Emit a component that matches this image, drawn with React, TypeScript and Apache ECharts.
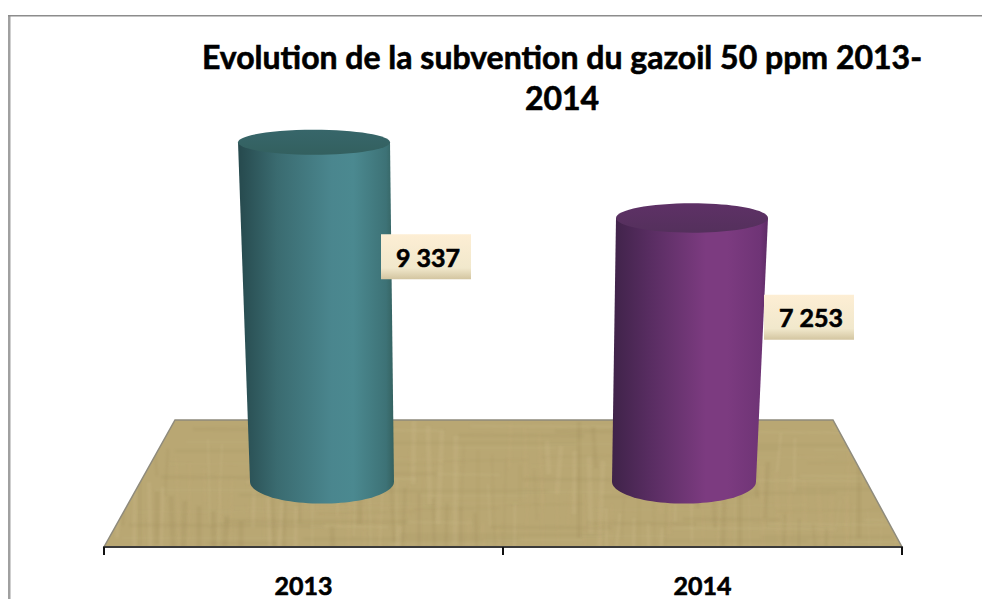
import React, { useEffect, useRef } from "react";
import * as echarts from "echarts";

const titleText = "Evolution de la subvention du gazoil 50 ppm 2013-\n2014";
const categories = ["2013", "2014"];
const subsidyValues = [9337, 7253];
const valueLabels = ["9 337", "7 253"];
const bodyStops = [
  ["#26494d", "#3a6b70", "#4a868e", "#4b8990", "#3d7276", "#34615f"],
  ["#3f2349", "#592d62", "#7c3b80", "#7c3b80", "#6f3476", "#5e2c66"],
];
const lidColors = [
  ["#33605f", "#37666a"],
  ["#54305c", "#5e3166"],
];
const FONT = "Lato, Carlito, 'Noto Sans', sans-serif";

function makeTexture(): string {
  const c = document.createElement("canvas");
  c.width = 820;
  c.height = 140;
  const g = c.getContext("2d") as CanvasRenderingContext2D;
  g.fillStyle = "#b9a773";
  g.fillRect(0, 0, 820, 140);
  (g as any).filter = "blur(1.2px)";
  for (let i = 0; i < 150; i++) {
    const x = (i * 53 + (i % 7) * 11) % 820;
    const y0 = (i * 29) % 110;
    const len = 30 + (i * 17) % 90;
    g.strokeStyle = i % 3 === 0 ? "rgba(216,200,156,0.16)" : i % 3 === 1 ? "rgba(150,130,80,0.16)" : "rgba(196,176,122,0.16)";
    g.lineWidth = 1 + (i % 5);
    g.beginPath();
    g.moveTo(x, y0);
    g.lineTo(x + (i % 9) - 4, y0 + len);
    g.stroke();
  }
  for (let i = 0; i < 90; i++) {
    const y = (i * 31) % 140;
    const x0 = (i * 71) % 820;
    g.strokeStyle = i % 2 === 0 ? "rgba(208,192,146,0.16)" : "rgba(150,130,80,0.12)";
    g.lineWidth = 1 + (i % 3);
    g.beginPath();
    g.moveTo(x0, y);
    g.lineTo(x0 + 60 + (i * 13) % 160, y + (i % 3) - 1);
    g.stroke();
  }
  return c.toDataURL();
}

export default function App() {
  const ref = useRef<HTMLDivElement>(null);
  useEffect(() => {
    document.body.style.margin = "0";
    const chart = echarts.init(ref.current!, null, { renderer: "svg" });
    const texture = makeTexture();

    const renderFloor = (params: any) => {
      const cs = params.coordSys;
      const bottom = cs.y + cs.height;
      const top = bottom - 127;
      return {
        type: "polygon",
        shape: {
          points: [
            [cs.x + 71, top],
            [cs.x + cs.width - 69, top],
            [cs.x + cs.width, bottom],
            [cs.x, bottom],
          ],
        },
        style: {
          fill: { image: texture, repeat: "no-repeat", imageWidth: 820, imageHeight: 140 },
          stroke: "#8f8b7c",
          lineWidth: 1.5,
        },
      };
    };

    const renderCylinder = (params: any, api: any) => {
      const i = params.dataIndex;
      const dir = i === 0 ? 1 : -1;
      const v = api.value(1);
      const topPt = api.coord([api.value(0), v]);
      const basePt = api.coord([api.value(0), 0]);
      const labelPt = api.coord([api.value(0), v * 0.8]);
      const rxTop = 76;
      const rxBase = 72;
      const ryOf = (y: number) => 12.5 + (y - 141) * 0.0279;
      const cxTop = topPt[0] + dir * 10.5;
      const cxBase = basePt[0] + dir * 18.5;
      const ryBase = ryOf(basePt[1]);
      const ryTop = ryOf(topPt[1]);
      const pts: number[][] = [
        [cxTop - rxTop, topPt[1]],
        [cxTop + rxTop, topPt[1]],
      ];
      for (let a = 0; a <= 48; a++) {
        const t = (a / 48) * Math.PI;
        pts.push([cxBase + rxBase * Math.cos(t), basePt[1] + ryBase * Math.sin(t)]);
      }
      const s = bodyStops[i];
      const bodyFill = new echarts.graphic.LinearGradient(0, 0, 1, 0, [
        { offset: 0, color: s[0] },
        { offset: 0.25, color: s[1] },
        { offset: 0.6, color: s[2] },
        { offset: 0.74, color: s[3] },
        { offset: 0.95, color: s[4] },
        { offset: 1, color: s[5] },
      ]);
      const lidFill = new echarts.graphic.LinearGradient(0, 0, 0, 1, [
        { offset: 0, color: lidColors[i][1] },
        { offset: 1, color: lidColors[i][0] },
      ]);
      const labelLeft = cxTop + rxTop - (i === 0 ? 9 : 4);
      const labelCy = labelPt[1] + 46.6;
      const labelFill = new echarts.graphic.LinearGradient(0, 0, 0, 1, [
        { offset: 0, color: "#fdeed4" },
        { offset: 0.75, color: "#f1e8cc" },
        { offset: 1, color: "#d3c5a0" },
      ]);
      return {
        type: "group",
        children: [
          { type: "polygon", shape: { points: pts }, style: { fill: bodyFill } },
          {
            type: "ellipse",
            shape: { cx: cxTop, cy: topPt[1], rx: rxTop, ry: ryTop },
            style: { fill: lidFill },
          },
          {
            type: "rect",
            shape: { x: labelLeft, y: labelCy - 22.5, width: 90, height: 45 },
            style: { fill: labelFill },
          },
          {
            type: "text",
            style: {
              x: labelLeft + 47,
              y: labelCy,
              text: valueLabels[i],
              align: "center",
              verticalAlign: "middle",
              fill: "#000",
              stroke: "#000",
              lineWidth: 0.6,
              font: `bold 25px ${FONT}`,
            },
          },
        ],
      };
    };

    chart.setOption({
      animation: false,
      backgroundColor: "#ffffff",
      title: {
        text: titleText,
        left: 557,
        top: 31,
        textAlign: "center",
        textStyle: {
          fontFamily: FONT,
          fontWeight: "bold",
          fontSize: 32,
          lineHeight: 41,
          color: "#000",
          textBorderColor: "#000",
          textBorderWidth: 0.6,
        },
      },
      grid: { left: 104, width: 798, top: 100, height: 447 },
      xAxis: {
        type: "category",
        data: categories,
        z: 5,
        axisLine: { onZero: false, lineStyle: { color: "#3a3a3a", width: 2 } },
        axisTick: { show: true, alignWithLabel: false, length: 8, lineStyle: { color: "#111", width: 2 } },
        axisLabel: {
          margin: 25,
          color: "#000",
          fontFamily: FONT,
          fontWeight: "bold",
          fontSize: 25,
          textBorderColor: "#000",
          textBorderWidth: 0.6,
        },
      },
      yAxis: { type: "value", min: -1800, max: 10500, show: false, splitLine: { show: false } },
      graphic: [
        { type: "rect", z: -1, shape: { x: 8, y: 15, width: 2.5, height: 584 }, style: { fill: "#a0a0a0" } },
        { type: "rect", z: -1, shape: { x: 8, y: 15, width: 974, height: 1.5 }, style: { fill: "#8c8c8c" } },
      ],
      series: [
        {
          type: "custom",
          name: "floor",
          z: 1,
          silent: true,
          data: [[0, 0]],
          clip: false,
          renderItem: renderFloor,
        },
        {
          type: "custom",
          name: "Subvention",
          z: 2,
          clip: false,
          encode: { x: 0, y: 1 },
          data: subsidyValues.map((v, i) => [i, v]),
          renderItem: renderCylinder,
        },
      ],
    });
    return () => chart.dispose();
  }, []);
  return <div ref={ref} style={{ position: "fixed", left: 0, top: 0, width: 982, height: 599 }} />;
}
